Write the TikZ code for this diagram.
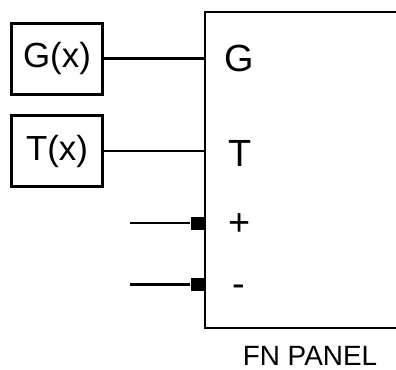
\documentclass[tikz,border=0pt]{standalone}
\usepackage{fontspec}
\setmainfont{Liberation Sans}
\usepackage{tikz}
\usetikzlibrary{positioning}
\tikzset{
  inBox/.style={draw, line width=3bp, minimum width=90bp, minimum height=71bp, inner sep=0pt, font=\fontsize{35}{42}\selectfont},
  portLabel/.style={inner sep=0pt, anchor=base, font=\fontsize{38}{46}\selectfont},
  pinBlock/.style={fill=black, draw=none, minimum width=14bp, minimum height=13bp, inner sep=0pt},
  panelName/.style={inner sep=0pt, anchor=base, font=\fontsize{28}{34}\selectfont},
}

\begin{document}
\begin{tikzpicture}[x=1bp, y=-1bp, line width=2.4bp]
\useasboundingbox (0,0) rectangle (396,370);
% panel outline, open to the right
\coordinate (pNW) at (205,12);
\coordinate (pSW) at (205,328);
\draw (397,12) -- (pNW) -- (pSW) -- (397,328);
\node[panelName] (fnPanel) at (310,365.5) {FN PANEL};
% function boxes
\node[inBox] (gx) at (57,58.5) {G(x)};
\node[inBox, below=18.5bp of gx] (tx) {T(x)};
% panel inputs
\node[portLabel] (gIn) at (239,71) {G};
\node[portLabel] (tIn) at (240,166) {T};
\node[portLabel] (plusIn) at (240,235.5) {+};
\node[portLabel] (minusIn) at (239,296.5) {-};
\draw (gx) -- (gx -| pNW);
\draw (tx) -- (tx -| pNW);
% pins
\node[pinBlock] (plusPin) at (198,223) {};
\node[pinBlock] (minusPin) at (198,284.5) {};
\coordinate (plusEnd) at (130,223);
\coordinate (minusEnd) at (130,284.5);
\draw (plusEnd) -- (plusPin);
\draw (minusEnd) -- (minusPin);
\end{tikzpicture}
\end{document}
